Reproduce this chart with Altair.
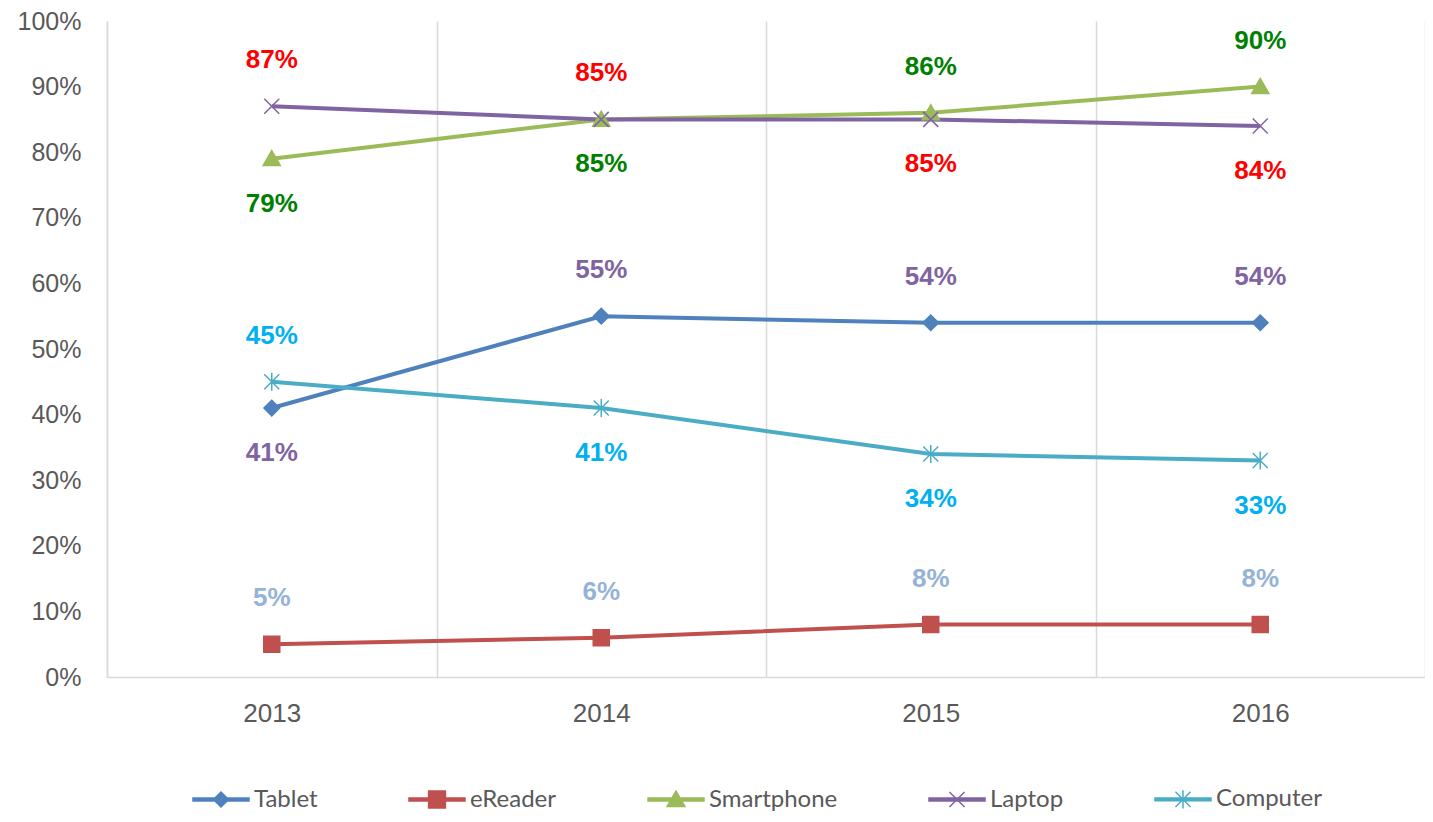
import altair as alt
import pandas as pd

# ---- data ----
years = ["2013", "2014", "2015", "2016"]
series = ["Tablet", "eReader", "Smartphone", "Laptop", "Computer"]
tablet = [0.41, 0.55, 0.54, 0.54]
ereader = [0.05, 0.06, 0.08, 0.08]
smartphone = [0.79, 0.85, 0.86, 0.90]
laptop = [0.87, 0.85, 0.85, 0.84]
computer = [0.45, 0.41, 0.34, 0.33]

# which side of the point each data label sits on
label_side_tablet = ["below", "above", "above", "above"]
label_side_ereader = ["above", "above", "above", "above"]
label_side_smartphone = ["below", "below", "above", "above"]
label_side_laptop = ["above", "above", "below", "below"]
label_side_computer = ["above", "below", "below", "below"]

# ---- styles ----
line_colors = ["#4F81BD", "#C0504D", "#9BBB59", "#8064A2", "#4BACC6"]
label_colors = {"Tablet": "#8064A2", "eReader": "#95B3D7", "Smartphone": "#008000",
                "Laptop": "#FF0000", "Computer": "#00B0F0"}
marker_paths = {
    "Tablet": "M0,-0.78L0.78,0L0,0.78L-0.78,0Z",
    "eReader": "M-0.8,-0.8H0.8V0.8H-0.8Z",
    "Smartphone": "M0,-0.82L0.86,0.68L-0.86,0.68Z",
    "Laptop": "M-0.75,-0.75L0.75,0.75M-0.75,0.75L0.75,-0.75",
    "Computer": "M-0.75,-0.75L0.75,0.75M-0.75,0.75L0.75,-0.75M0,-0.9L0,0.9",
}
leg_line = "M-1,-0.05H1V0.05H-1Z"
legend_paths = [
    leg_line + "M0,-0.27L0.27,0L0,0.27L-0.27,0Z",
    leg_line + "M-0.3,-0.3H0.3V0.3H-0.3Z",
    leg_line + "M0,-0.3L0.32,0.25L-0.32,0.25Z",
    leg_line + "M-0.27,-0.27L0.27,0.27M-0.27,0.27L0.27,-0.27",
    leg_line + "M-0.27,-0.27L0.27,0.27M-0.27,0.27L0.27,-0.27M0,-0.33V0.33",
]

values = [tablet, ereader, smartphone, laptop, computer]
sides = [label_side_tablet, label_side_ereader, label_side_smartphone,
         label_side_laptop, label_side_computer]
rows = []
for s, vals, sd in zip(series, values, sides):
    for y, v, side in zip(years, vals, sd):
        rows.append({"year": y, "series": s, "value": v, "side": side,
                     "lcolor": label_colors[s], "marker": marker_paths[s]})
df = pd.DataFrame(rows)

legend = alt.Legend(
    title=None, orient="none", direction="horizontal",
    legendX=85, legendY=749,
    symbolSize=3136, symbolStrokeWidth=1.5, symbolOpacity=1,
    columnPadding=88, labelOffset=4,
    labelFont="Lato", labelFontSize=24, labelColor="#595959",
)

color_scale = alt.Scale(domain=series, range=line_colors)

x_enc = alt.X("year:N", sort=years, bandPosition=0.5,
              scale=alt.Scale(type="band", paddingInner=0, paddingOuter=0),
              axis=alt.Axis(title=None, labelAngle=0, tickBand="extent", grid=True,
                            gridColor="#D9D9D9", gridWidth=1.5, ticks=False, tickSize=0,
                            domainColor="#D9D9D9", domainWidth=1.5,
                            labelFont="Liberation Sans", labelFontSize=26,
                            labelColor="#595959", labelPadding=23))
y_enc = alt.Y("value:Q", scale=alt.Scale(domain=[0, 1]),
              axis=alt.Axis(title=None, values=[i / 10 for i in range(11)], format=".0%",
                            grid=False, ticks=False, tickSize=0,
                            domainColor="#D9D9D9", domainWidth=1.5,
                            labelFont="Liberation Sans", labelFontSize=25,
                            labelColor="#595959", labelPadding=26))

color_enc = alt.Color("series:N", scale=color_scale, sort=series, legend=legend)
stroke_enc = alt.Stroke("series:N", scale=color_scale, sort=series, legend=legend)

base = alt.Chart(df)

lines = base.mark_line(strokeWidth=4).encode(
    x=x_enc, y=y_enc, color=color_enc, detail="series:N",
)

points = base.mark_point(filled=True, size=400, strokeWidth=1.5, opacity=1).encode(
    x=x_enc, y=y_enc, color=color_enc, stroke=stroke_enc,
    shape=alt.Shape("marker:N", scale=None, legend=None),
)

# invisible layer that only provides the legend symbols (line + marker)
legend_layer = base.mark_point(filled=True, opacity=0, size=1).encode(
    x=x_enc, y=y_enc, color=color_enc, stroke=stroke_enc,
    shape=alt.Shape("series:N", sort=series,
                    scale=alt.Scale(domain=series, range=legend_paths), legend=legend),
)

text_common = dict(fontWeight="bold", fontSize=26, font="Liberation Sans", baseline="middle")
labels_above = base.transform_filter(alt.datum.side == "above").mark_text(dy=-46, **text_common).encode(
    x=x_enc, y=y_enc,
    text=alt.Text("value:Q", format=".0%"),
    color=alt.Color("lcolor:N", scale=None, legend=None),
)
labels_below = base.transform_filter(alt.datum.side == "below").mark_text(dy=45, **text_common).encode(
    x=x_enc, y=y_enc,
    text=alt.Text("value:Q", format=".0%"),
    color=alt.Color("lcolor:N", scale=None, legend=None),
)

chart = alt.layer(lines, points, legend_layer, labels_above, labels_below).properties(
    width=1318, height=656,
    autosize=alt.AutoSizeParams(type="none"),
    padding={"left": 99, "top": 13, "right": 0, "bottom": 137},
    background="white",
).configure_view(stroke=None)

chart.save("out.html", embed_options={"renderer": "svg", "actions": False})
